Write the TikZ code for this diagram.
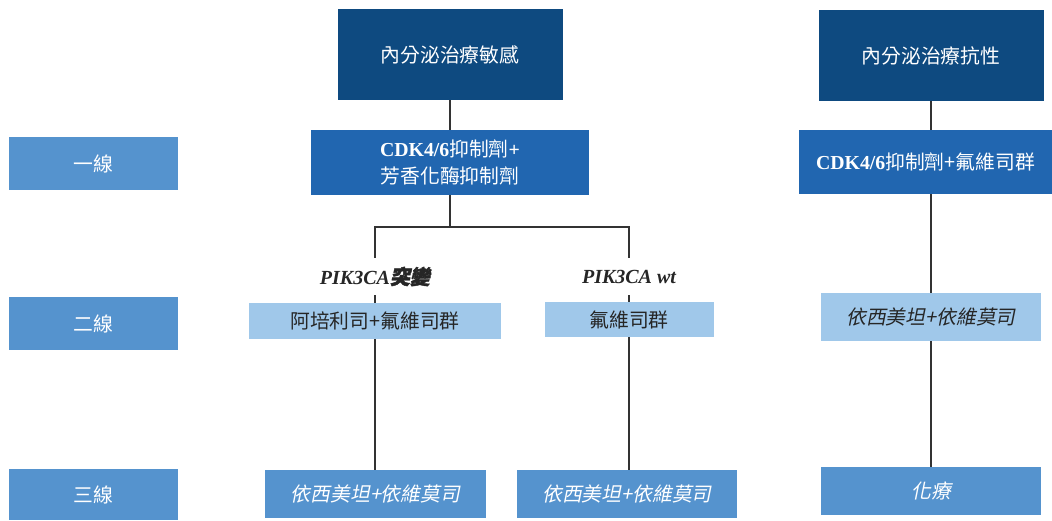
\documentclass[tikz,border=0pt]{standalone}
\usepackage{fontspec}
\setmainfont{Liberation Serif}
\newfontfamily\cjk{Noto Sans CJK TC}
\newfontfamily\cjkit[FakeSlant=0.2]{Noto Sans CJK TC}
\newfontfamily\cjkbi[FakeSlant=0.2,FakeBold=2]{Noto Sans CJK TC}
\definecolor{navy}{HTML}{0E4A80}
\definecolor{midblue}{HTML}{2166B0}
\definecolor{rowblue}{HTML}{5593CE}
\definecolor{lightblue}{HTML}{A0C8EA}
\definecolor{linegray}{HTML}{333333}
\begin{document}
\begin{tikzpicture}[x=1pt,y=1pt,
  box/.style={inner sep=0pt, align=center, font=\fontsize{19.8}{24}\selectfont\cjk},
  topbox/.style={box, fill=navy, text=white},
  onebox/.style={box, fill=midblue, text=white},
  rowbox/.style={box, fill=rowblue, text=white},
  lightbox/.style={box, fill=lightblue, text=black!85},
  itbox/.style={font=\fontsize{19.8}{24}\selectfont\cjkit},
  mutlbl/.style={inner sep=0pt, text=black!85, font=\fontsize{20}{24}\selectfont\bfseries\itshape},
  conn/.style={draw=linegray, line width=1.3pt}]
\useasboundingbox (0,0) rectangle (1052,-521);
\fill[white] (0,0) rectangle (1052,-521);
% row labels
\node[rowbox, minimum width=169, minimum height=53] (r1) at (93.5,-163.5) {一線};
\node[rowbox, minimum width=169, minimum height=53] (r2) at (93.5,-323.5) {二線};
\node[rowbox, minimum width=169, minimum height=51] (r3) at (93.5,-494.5) {三線};
% left tree
\node[topbox, minimum width=225, minimum height=91] (tl) at (450,-54.5) {內分泌治療敏感};
\node[onebox, minimum width=278, minimum height=65] (cl) at (450,-162.5)
  {{\rmfamily\bfseries CDK4/6}抑制劑{\rmfamily\bfseries +}\\[3pt]芳香化酶抑制劑};
\coordinate (j) at (450,-227);
\node[mutlbl, minimum height=37] (m1) at (375,-276.5) {PIK3CA{\cjkbi 突變}};
\node[mutlbl, minimum height=37] (m2) at (629,-276.5) {PIK3CA wt};
\node[lightbox, minimum width=252, minimum height=36] (b21) at (375,-321) {阿培利司+氟維司群};
\node[lightbox, minimum width=169, minimum height=35] (b22) at (629,-319.5) {氟維司群};
\node[rowbox, itbox, minimum width=221, minimum height=48] (b31) at (375.5,-494) {依西美坦+依維莫司};
\node[rowbox, itbox, minimum width=220, minimum height=48] (b32) at (627,-494) {依西美坦+依維莫司};
% right tree
\node[topbox, minimum width=225, minimum height=91] (tr) at (931,-55.5) {內分泌治療抗性};
\node[onebox, minimum width=253, minimum height=64] (cr) at (925.5,-162)
  {{\rmfamily\bfseries CDK4/6}抑制劑+氟維司群};
\node[lightbox, itbox, minimum width=220, minimum height=48] (b2r) at (931,-317) {依西美坦+依維莫司};
\node[rowbox, itbox, minimum width=220, minimum height=48] (b3r) at (931,-491) {化療};
% connectors
\draw[conn] (tl.south) -- (cl.north);
\draw[conn] (cl.south) -- (j);
\draw[conn] (j) -| (m1.north);
\draw[conn] (j) -| (m2.north);
\draw[conn] (m1.south) -- (b21.north);
\draw[conn] (m2.south) -- (b22.north);
\draw[conn] (b21.south) -- (b21.south |- b31.north);
\draw[conn] (b22.south) -- (b22.south |- b32.north);
\draw[conn] (tr.south) -- (tr.south |- cr.north);
\draw[conn] (tr.south |- cr.south) -- (b2r.north);
\draw[conn] (b2r.south) -- (b3r.north);
\end{tikzpicture}
\end{document}
